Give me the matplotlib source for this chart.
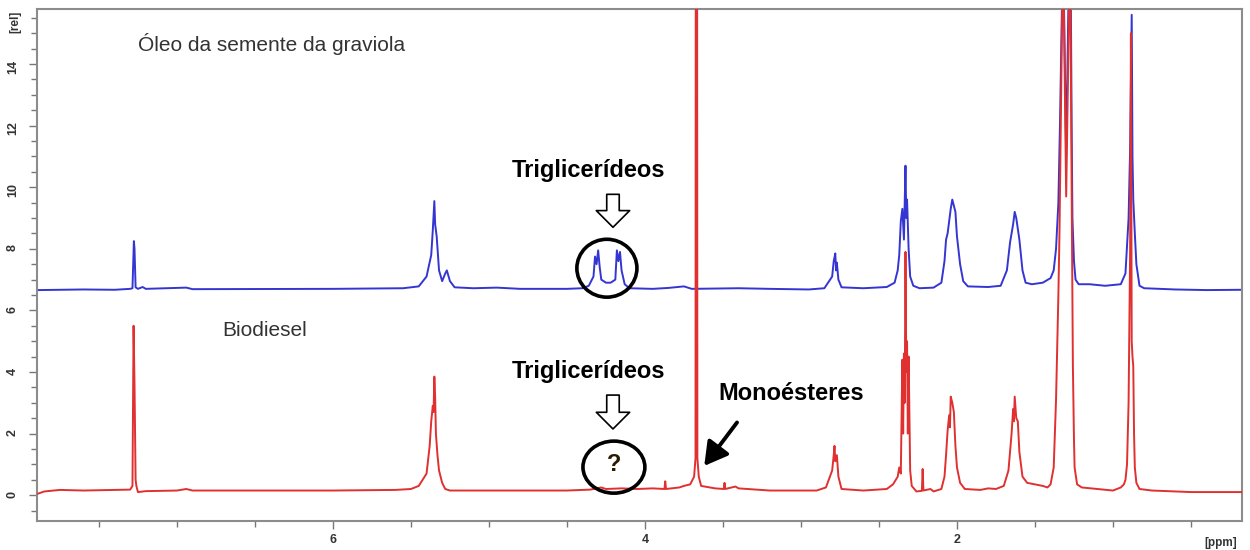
import matplotlib
matplotlib.use("Agg")
import matplotlib.pyplot as plt
from matplotlib.patches import Ellipse
from matplotlib.ticker import MultipleLocator

plt.rcParams['font.family'] = ['Liberation Sans', 'DejaVu Sans']

# ---- traced spectra (ppm, relative intensity) ----
oil_ppm = [7.89, 7.60, 7.40, 7.30, 7.285, 7.276, 7.272, 7.265, 7.25, 7.22, 7.20, 6.94, 6.90, 6.00,
           5.55, 5.45, 5.40, 5.37, 5.36, 5.35, 5.345, 5.335, 5.32, 5.30, 5.28, 5.27, 5.25, 5.22, 5.10,
           4.95, 4.80, 4.50, 4.40, 4.36, 4.33, 4.32, 4.31, 4.30, 4.29, 4.28, 4.25, 4.22, 4.19, 4.18,
           4.17, 4.16, 4.15, 4.13, 4.10, 3.95, 3.85, 3.75, 3.70, 3.40, 3.20, 2.95, 2.85, 2.80, 2.79,
           2.78, 2.775, 2.77, 2.76, 2.74, 2.60, 2.45, 2.40, 2.38, 2.37, 2.36, 2.35, 2.34, 2.33, 2.325,
           2.32, 2.31, 2.30, 2.28, 2.24, 2.15, 2.10, 2.08, 2.07, 2.06, 2.05, 2.04, 2.03, 2.02, 2.01,
           2.00, 1.98, 1.96, 1.93, 1.80, 1.72, 1.68, 1.66, 1.64, 1.63, 1.62, 1.60, 1.58, 1.56, 1.52,
           1.45, 1.40, 1.38, 1.365, 1.35, 1.34, 1.33, 1.32, 1.30, 1.28, 1.27, 1.265, 1.26, 1.25,
           1.24, 1.22, 1.15, 1.05, 0.95, 0.92, 0.90, 0.89, 0.88, 0.875, 0.87, 0.86, 0.85, 0.83,
           0.80, 0.60, 0.40, 0.17]
oil_int = [6.66, 6.68, 6.67, 6.70, 6.72, 8.25, 8.00, 6.75, 6.70, 6.76, 6.70, 6.74, 6.69, 6.70,
           6.72, 6.78, 7.10, 7.80, 8.60, 9.55, 8.80, 8.40, 7.30, 6.95, 7.20, 7.30, 6.95, 6.75, 6.72,
           6.74, 6.70, 6.70, 6.72, 6.80, 7.10, 7.75, 7.50, 7.95, 7.40, 7.00, 6.90, 6.90, 7.00, 7.95,
           7.60, 7.90, 7.30, 6.85, 6.72, 6.70, 6.73, 6.78, 6.70, 6.72, 6.70, 6.68, 6.72, 7.10, 7.60,
           7.85, 7.30, 7.55, 7.00, 6.75, 6.72, 6.76, 6.90, 7.30, 7.80, 8.90, 9.30, 8.30, 10.70, 9.00,
           9.60, 8.00, 7.10, 6.80, 6.72, 6.74, 6.90, 7.60, 8.30, 8.50, 8.90, 9.30, 9.60, 9.40, 9.20,
           8.40, 7.50, 6.95, 6.78, 6.76, 6.80, 7.30, 8.20, 8.80, 9.20, 9.00, 8.30, 7.30, 6.90, 6.85,
           6.90, 7.05, 7.30, 8.00, 9.50, 12.0, 15.0, 18.0, 11.0, 18.0, 16.0, 12.0, 9.00, 7.60,
           7.00, 6.85, 6.85, 6.80, 6.85, 7.20, 9.00, 11.3, 15.6, 11.0, 9.60, 8.50, 7.50, 6.80,
           6.72, 6.68, 6.66, 6.67]

bio_ppm = [7.89, 7.85, 7.75, 7.60, 7.40, 7.30, 7.285, 7.278, 7.272, 7.265, 7.26, 7.25, 7.20, 7.00,
           6.94, 6.90, 6.00, 5.60, 5.50, 5.45, 5.40, 5.38, 5.37, 5.36, 5.355, 5.35, 5.345, 5.34, 5.33,
           5.32, 5.30, 5.28, 5.25, 5.00, 4.50, 4.35, 4.28, 4.25, 4.15, 4.05, 3.95, 3.875, 3.87, 3.865,
           3.78, 3.75, 3.71, 3.685, 3.676, 3.670, 3.664, 3.655, 3.64, 3.55, 3.495, 3.49, 3.485, 3.42, 3.40,
           3.20, 2.90, 2.84, 2.80, 2.79, 2.785, 2.78, 2.77, 2.76, 2.74, 2.60, 2.45, 2.41, 2.38, 2.37,
           2.36, 2.35, 2.345, 2.34, 2.335, 2.33, 2.325, 2.32, 2.315, 2.31, 2.30, 2.29, 2.26, 2.225,
           2.22, 2.215, 2.17, 2.15, 2.10, 2.08, 2.07, 2.06, 2.05, 2.045, 2.04, 2.03, 2.02, 2.01, 2.00,
           1.98, 1.95, 1.85, 1.80, 1.75, 1.70, 1.67, 1.65, 1.64, 1.635, 1.63, 1.62, 1.61, 1.60, 1.58,
           1.55, 1.50, 1.45, 1.42, 1.40, 1.38, 1.365, 1.35, 1.343, 1.33, 1.32, 1.30, 1.275, 1.265,
           1.257, 1.25, 1.246, 1.23, 1.20, 1.10, 1.00, 0.95, 0.93, 0.92, 0.91, 0.90, 0.895, 0.89,
           0.885, 0.88, 0.875, 0.87, 0.865, 0.86, 0.85, 0.83, 0.75, 0.60, 0.50, 0.17]
bio_int = [0.05, 0.12, 0.17, 0.15, 0.17, 0.18, 0.30, 5.50, 3.60, 0.50, 0.30, 0.10, 0.13, 0.15,
           0.20, 0.15, 0.15, 0.17, 0.20, 0.30, 0.70, 1.60, 2.40, 2.90, 2.70, 3.85, 3.20, 2.00, 1.30,
           0.80, 0.40, 0.20, 0.15, 0.15, 0.15, 0.18, 0.25, 0.20, 0.22, 0.20, 0.22, 0.20, 0.45, 0.20,
           0.25, 0.30, 0.35, 0.60, 1.20, 60.0, 1.20, 0.60, 0.30, 0.22, 0.20, 0.40, 0.20, 0.28, 0.22,
           0.15, 0.15, 0.25, 0.80, 1.30, 1.60, 1.10, 1.30, 0.60, 0.20, 0.15, 0.20, 0.35, 0.60, 0.90,
           0.70, 4.40, 2.00, 4.60, 3.00, 7.90, 4.00, 5.00, 2.00, 4.50, 0.80, 0.30, 0.12, 0.14,
           0.85, 0.15, 0.20, 0.12, 0.20, 0.60, 1.30, 2.10, 2.60, 2.20, 3.20, 3.00, 2.70, 1.60, 0.90,
           0.40, 0.20, 0.17, 0.22, 0.20, 0.30, 0.80, 2.00, 2.80, 2.40, 3.20, 2.50, 2.40, 1.40, 0.60,
           0.40, 0.35, 0.30, 0.25, 0.35, 0.90, 3.10, 6.50, 8.50, 14.0, 18.0, 9.70, 18.0, 10.0,
           4.20, 1.80, 0.90, 0.35, 0.25, 0.20, 0.15, 0.25, 0.35, 0.50, 1.00, 3.00, 5.60, 8.00,
           15.0, 5.00, 4.50, 4.20, 2.00, 0.90, 0.40, 0.20, 0.15, 0.12, 0.10, 0.10]

y_ticks = [0, 2, 4, 6, 8, 10, 12, 14]
x_ticks = [6, 4, 2]

fig = plt.figure(figsize=(12.5, 5.5), dpi=100)
ax = fig.add_axes([0.0296, 0.0527, 0.964, 0.931])

ax.plot(oil_ppm, oil_int, color='#3535d2', lw=1.4, zorder=2)
ax.plot(bio_ppm, bio_int, color='#e03030', lw=1.4, zorder=3)

ax.set_xlim(7.897, 0.173)
ax.set_ylim(-0.84, 15.79)
ax.set_xticks(x_ticks)
ax.set_yticks(y_ticks)
ax.xaxis.set_minor_locator(MultipleLocator(0.5))
ax.yaxis.set_minor_locator(MultipleLocator(0.5))
ax.tick_params(axis='both', which='both', direction='out', color='#777777', width=1)
ax.tick_params(axis='both', which='major', length=6, labelsize=9, labelcolor='#333333')
ax.tick_params(axis='both', which='minor', length=4)
ax.tick_params(axis='y', labelrotation=90, pad=7)
ax.tick_params(axis='x', pad=3)
for lab in ax.get_xticklabels() + ax.get_yticklabels():
    lab.set_fontweight('bold')
for sp in ax.spines.values():
    sp.set_color('#8c8c8c')
    sp.set_linewidth(1.5)

fig.text(15 / 1250, 1 - 22 / 550, '[rel]', rotation=90, fontsize=8.5, fontweight='bold',
         color='#333333', ha='center', va='center')
fig.text(1221 / 1250, 1 - 543 / 550, '[ppm]', fontsize=8.5, fontweight='bold',
         color='#333333', ha='center', va='center')

# labels
ax.text(7.25, 14.64, 'Óleo da semente da graviola', fontsize=15, color='#333333',
        ha='left', va='center')
ax.text(6.71, 5.36, 'Biodiesel', fontsize=15, color='#333333', ha='left', va='center')
ax.text(4.36, 10.55, 'Triglicerídeos', fontsize=17, fontweight='bold', color='black',
        ha='center', va='center')
ax.text(4.36, 4.03, 'Triglicerídeos', fontsize=17, fontweight='bold', color='black',
        ha='center', va='center')
ax.text(3.532, 3.31, 'Monoésteres', fontsize=17, fontweight='bold', color='black',
        ha='left', va='center')
ax.text(4.199, 0.98, '?', fontsize=17, fontweight='bold', color='#2a1a00',
        ha='center', va='center')

# hollow arrows
for ytop, ybot in [(9.77, 8.70), (3.25, 2.15)]:
    ax.annotate('', xy=(4.205, ybot), xytext=(4.205, ytop),
                arrowprops=dict(arrowstyle='simple,head_width=1.2,head_length=0.6,tail_width=0.45',
                                fc='white', ec='black', lw=1.2, mutation_scale=20,
                                shrinkA=0, shrinkB=0))

# circles
ax.add_patch(Ellipse((4.244, 7.37), 0.385, 1.88, fill=False, ec='black', lw=2.6, zorder=4))
ax.add_patch(Ellipse((4.199, 0.91), 0.397, 1.69, fill=False, ec='black', lw=2.6, zorder=4))

# black arrow to monoester peak
ax.annotate('', xy=(3.62, 0.95), xytext=(3.41, 2.36),
            arrowprops=dict(arrowstyle='-|>,head_width=0.4,head_length=0.7', color='black',
                            lw=2.8, mutation_scale=20, shrinkA=0, shrinkB=0))

fig.savefig('out.png', dpi=100)
